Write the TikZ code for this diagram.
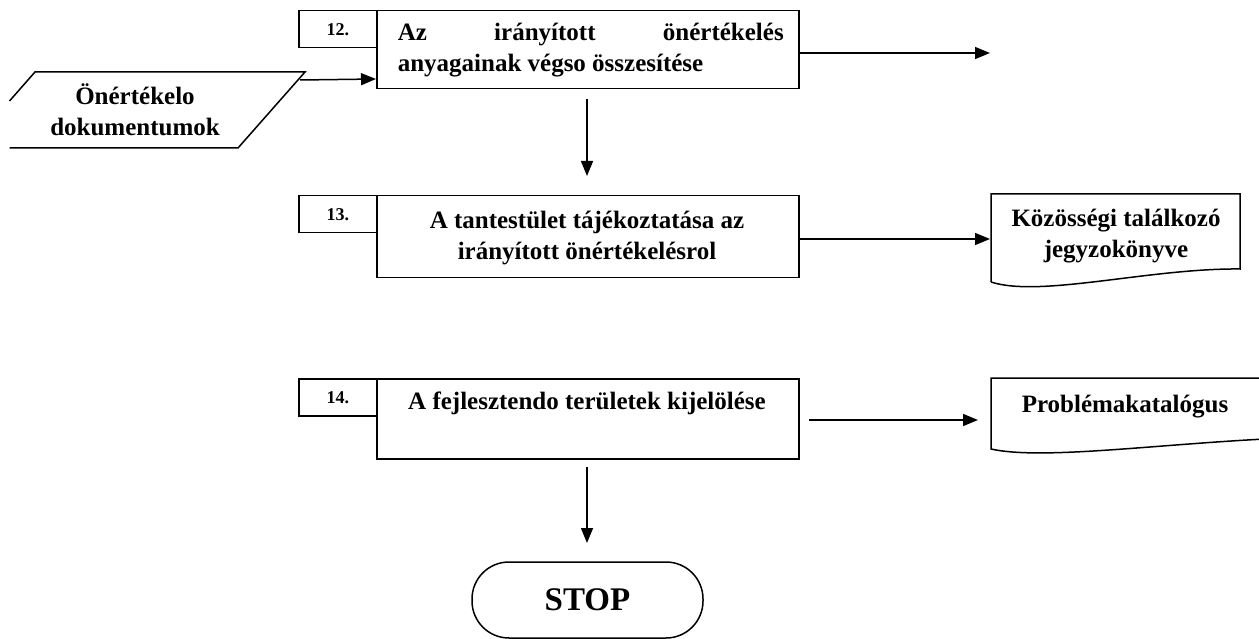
\documentclass[tikz,border=0pt]{standalone}
\usepackage{fontspec}
\setmainfont{Liberation Serif}
\usetikzlibrary{arrows.meta}
\begin{document}
\begin{tikzpicture}[x=1pt,y=-1pt,
  line width=1.5pt,
  font=\bfseries\fontsize{25}{31}\selectfont,
  numbox/.style={draw, minimum width=78pt, minimum height=37pt, anchor=north west, inner sep=0pt,
    font=\bfseries\fontsize{18}{20}\selectfont},
  procbox/.style={draw, minimum width=422pt, anchor=north west, inner sep=0pt},
  flow/.style={-{Triangle[length=15pt,width=12pt]}},
  label/.style={align=center, inner sep=0pt}
]
\useasboundingbox (0,0) rectangle (1259,639);
\clip (0,0) rectangle (1259,639);

% step 12
\node[numbox] (n12) at (298,10) {12.};
\node[procbox, minimum height=78pt] (p12) at (376,10) {};
\node[anchor=west, align=left, inner sep=0pt] (t12) at (397,50)
  {\makebox[386pt][s]{Az irányított önértékelés}\\anyagainak végso összesítése};
\coordinate (out12) at (990,53);
\draw[flow] (p12.east |- out12) -- (out12);

% input document (parallelogram, running off the left edge)
\draw (9.5,101) -- (35,72) coordinate (pa) -- (305,72) coordinate (pb) -- (238,148) -- (9.5,148);
\node[label] (in12) at (135,110) {Önértékelo\\dokumentumok};
\coordinate (inr) at (300,80);
\draw[flow] (inr) -- (p12.west |- 0,79);

% step 13
\node[numbox] (n13) at (298,195) {13.};
\node[procbox, minimum height=82pt] (p13) at (376,195) {};
\node[label] (t13) at (587,238) {A tantestület tájékoztatása az\\irányított önértékelésrol};
\draw[flow] (p12.south -| 587,0) ++(0,10) coordinate (d12) -- (587,176);

% minutes document
\draw (991,282) -- (991,194) -- (1240,194) -- (1240,269)
  .. controls (1150,268) and (1040,298) .. (991,282);
\node[label] (doc13) at (1116,236) {Közösségi találkozó\\jegyzokönyve};
\draw[flow] (p13.east |- 0,239) -- (990,239);

% step 14
\node[numbox] (n14) at (298,378) {14.};
\node[procbox, minimum height=80pt] (p14) at (376,378) {};
\node[label] (t14) at (587,403) {A fejlesztendo területek kijelölése};
\draw[flow] (809,420) -- (978,420);

% problem catalogue document
\draw (1265,378) -- (991,378) -- (991,449)
  .. controls (1040,460) and (1150,445) .. (1265,439);
\node[label] (doc14) at (1125,407) {Problémakatalógus};

% end
\node[draw, minimum width=231pt, minimum height=76pt, rounded corners=37pt,
  inner sep=0pt, font=\bfseries\fontsize{33}{36}\selectfont] (stop) at (587.5,600) {STOP};
\draw[flow] (587,467) -- (587,543);
\end{tikzpicture}
\end{document}
